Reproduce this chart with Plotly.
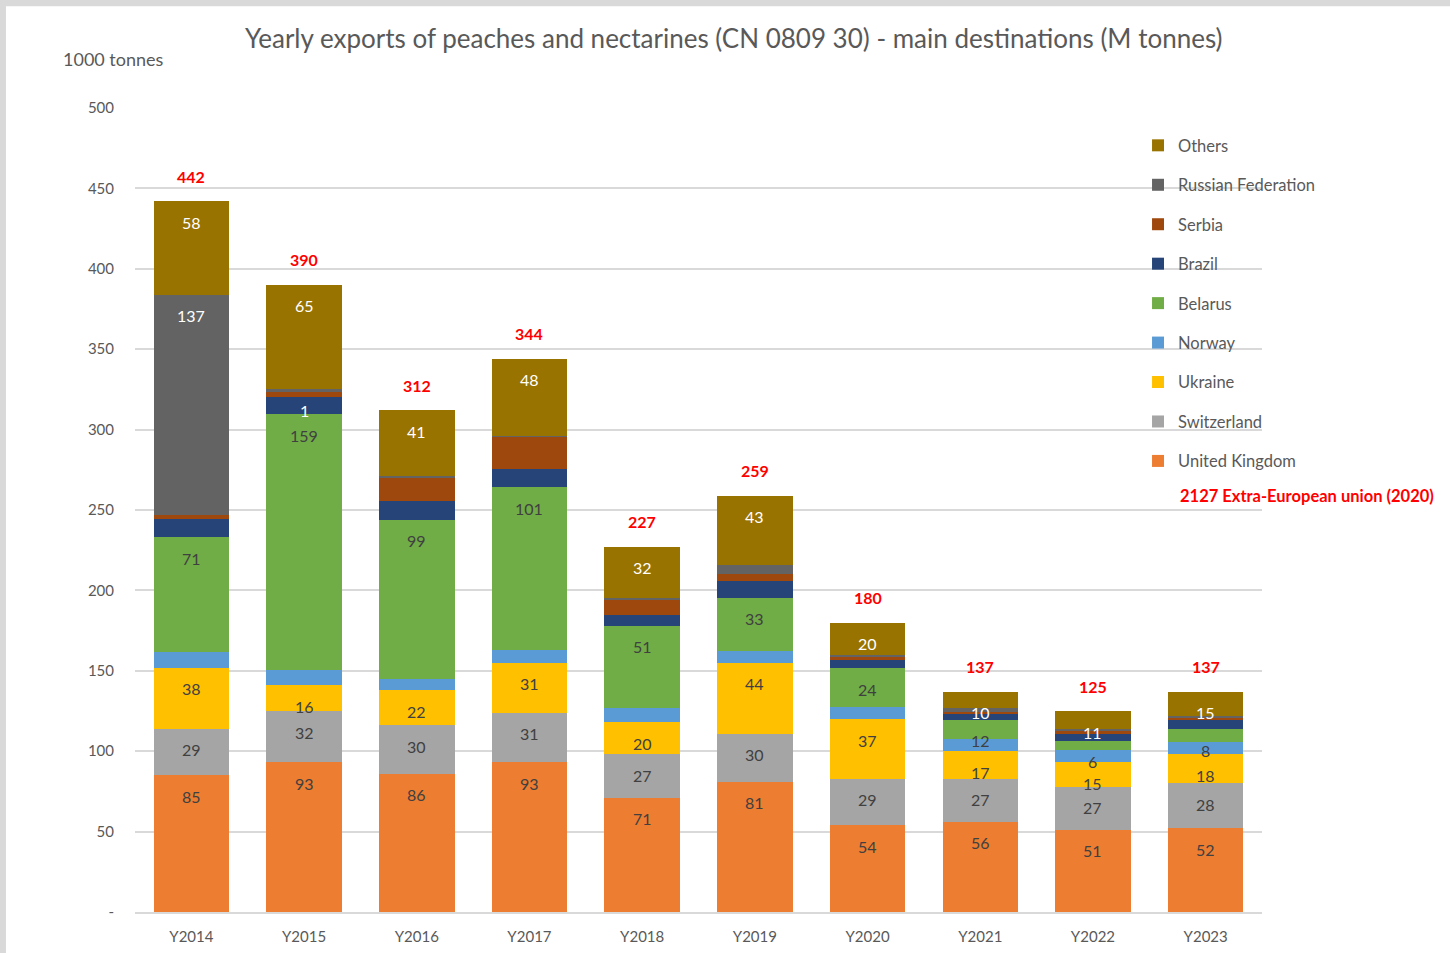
import plotly.graph_objects as go

# Yearly exports of peaches and nectarines, 1000 tonnes
years = ["Y2014", "Y2015", "Y2016", "Y2017", "Y2018", "Y2019", "Y2020", "Y2021", "Y2022", "Y2023"]

united_kingdom = [85, 93, 86, 93, 71, 81, 54, 56, 51, 52]
switzerland = [29, 32, 30, 31, 27, 30, 29, 27, 27, 28]
ukraine = [38, 16, 22, 31, 20, 44, 37, 17, 15, 18]
norway = [10, 9.5, 7, 8, 9, 7.5, 7.5, 7.5, 7.5, 7.5]
belarus = [71, 159, 99, 101, 51, 33, 24, 12, 6, 8]
brazil = [11.5, 10.5, 11.5, 11.5, 7, 10.5, 5, 3.5, 4.5, 6]
serbia = [2.5, 4, 14.5, 20, 9.5, 4, 2, 1.5, 1.5, 1.5]
russia = [137, 1, 1, 0.5, 0.5, 6, 1.5, 2.5, 1.5, 1]
others = [58, 65, 41, 48, 32, 43, 20, 10, 11, 15]

totals = [442, 390, 312, 344, 227, 259, 180, 137, 125, 137]

# labels that Excel printed inside the segments ("" = no label)
russia_labels = ["137", "1", "", "", "", "", "", "", "", ""]

GREY_TXT = "#595959"
FONT = "Lato"

# (name, values, colour, label colour, labels)
series = [
    ("United Kingdom", united_kingdom, "#ED7D31", "#404040", [str(v) for v in united_kingdom]),
    ("Switzerland", switzerland, "#A5A5A5", "#404040", [str(v) for v in switzerland]),
    ("Ukraine", ukraine, "#FFC000", "#404040", [str(v) for v in ukraine]),
    ("Norway", norway, "#5B9BD5", "#404040", None),
    ("Belarus", belarus, "#70AD47", "#404040", [str(v) for v in belarus]),
    ("Brazil", brazil, "#264478", "#FFFFFF", None),
    ("Serbia", serbia, "#9E480E", "#FFFFFF", None),
    ("Russian Federation", russia, "#636363", "#FFFFFF", russia_labels),
    ("Others", others, "#997300", "#FFFFFF", [str(v) for v in others]),
]

fig = go.Figure()
annotations = []
running = [0.0] * len(years)

for i, (name, vals, color, lbl_color, labels) in enumerate(series):
    fig.add_trace(
        go.Bar(
            x=years,
            y=vals,
            name=name,
            legendgroup=name,
            legendrank=len(series) - i,  # Others on top of the legend
            marker=dict(color=color, line=dict(width=0)),
            hoverinfo="x+y+name",
        )
    )
    running = [r + v for r, v in zip(running, vals)]
    if labels:
        for yr, top, txt in zip(years, running, labels):
            if txt:
                annotations.append(dict(
                    x=yr, y=top, xref="x", yref="y",
                    text=txt, showarrow=False,
                    yanchor="middle", yshift=-21,
                    font=dict(family=FONT, size=16, color=lbl_color),
                ))

# totals in red above each bar
for yr, tot in zip(years, totals):
    annotations.append(dict(
        x=yr, y=tot, xref="x", yref="y",
        text=f"<b>{tot}</b>", showarrow=False,
        yanchor="middle", yshift=25,
        font=dict(family=FONT, size=16, color="#FF0000"),
    ))

annotations.append(dict(
    x=-0.066, y=1.061, xref="paper", yref="paper",
    text="1000 tonnes", showarrow=False, xanchor="left", yanchor="middle",
    font=dict(family=FONT, size=18, color=GREY_TXT),
))
annotations.append(dict(
    x=0.9255, y=0.518, xref="paper", yref="paper",
    text="<b>2127 Extra-European union (2020)</b>", showarrow=False,
    xanchor="left", yanchor="middle",
    font=dict(family=FONT, size=16.5, color="#FF0000"),
))

fig.update_layout(
    width=1450,
    height=953,
    barmode="stack",
    bargap=0.33,
    title=dict(
        text="Yearly exports of peaches and nectarines (CN 0809 30) - main destinations (M tonnes)",
        x=0.506, xref="container", xanchor="center",
        y=0.959, yref="container", yanchor="middle",
        font=dict(family=FONT, size=26, color=GREY_TXT),
    ),
    font=dict(family=FONT, color=GREY_TXT),
    margin=dict(l=135, r=188, t=108, b=41),
    paper_bgcolor="#D9D9D9",
    plot_bgcolor="rgba(0,0,0,0)",
    showlegend=True,
    legend=dict(
        x=0.89, y=0.975, xanchor="left", yanchor="top",
        traceorder="grouped",
        tracegroupgap=15,
        bgcolor="rgba(0,0,0,0)",
        font=dict(family=FONT, size=16.5, color=GREY_TXT),
    ),
    annotations=annotations,
    shapes=[dict(
        type="rect", xref="paper", yref="paper", layer="below",
        x0=-0.1145, x1=1.17, y0=-0.06, y1=1.1267,
        fillcolor="white", line=dict(width=0),
    )],
)

fig.update_yaxes(
    range=[0, 500],
    tickvals=list(range(0, 501, 50)),
    ticktext=["-"] + [str(v) for v in range(50, 501, 50)],
    showgrid=True, gridcolor="#D9D9D9", gridwidth=1.5,
    zeroline=False,
    automargin=False,
    ticklabelstandoff=20,
    tickfont=dict(family=FONT, size=15, color=GREY_TXT),
)
fig.update_xaxes(
    showline=True, linecolor="#D9D9D9", linewidth=1.5,
    automargin=False,
    tickfont=dict(family=FONT, size=15, color=GREY_TXT),
    ticklabelstandoff=10,
)

# drop the browser's default body margin so the figure sits at (0, 0)
fig.write_html(
    "out.html",
    config={"displayModeBar": False},
    post_script="document.body.style.margin='0';",
)
